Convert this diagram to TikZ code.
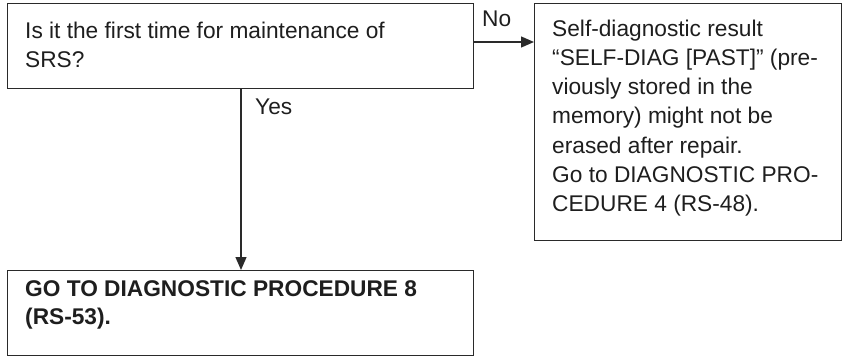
\documentclass[tikz,border=0pt]{standalone}
\usepackage{fontspec}
\setmainfont{Liberation Sans}
\usetikzlibrary{arrows.meta}
\definecolor{lc}{HTML}{2A2A2A}
\definecolor{tc}{HTML}{1E1E1E}
\begin{document}
\begin{tikzpicture}[x=1pt,y=-1pt,
  box/.style={draw=lc, line width=1.3pt, rectangle, inner sep=0pt, anchor=north west},
  txt/.style={inner sep=0pt, anchor=north west, align=left, text=tc,
    font=\fontsize{22.7}{29.3}\selectfont},
  lbl/.style={inner sep=0pt, anchor=base west, text=tc, font=\fontsize{22.7}{29.3}\selectfont},
  arr/.style={draw=lc, line width=1.3pt, -{Triangle[length=13pt,width=11pt]}}]
\useasboundingbox (0,0) rectangle (846,356);
% boxes
\node[box, minimum width=466pt, minimum height=85pt] (q) at (7,3) {};
\node[box, minimum width=307pt, minimum height=237pt] (d) at (534,3) {};
\node[box, minimum width=466pt, minimum height=85pt] (g) at (7,270) {};
% texts
\node[txt] (qt) at (25,17.5) {\strut Is it the first time for maintenance of\\SRS?};
\node[txt] (dt) at (552,15.3) {\strut Self-diagnostic result\\“SELF-DIAG [PAST]” (pre-\\viously stored in the\\memory) might not be\\erased after repair.\\Go to DIAGNOSTIC PRO-\\CEDURE 4 (RS-48).};
\node[txt, font=\fontsize{22.7}{28.5}\selectfont\bfseries] (gt) at (25,276) {\strut GO TO DIAGNOSTIC PROCEDURE 8\\(RS-53).};
% connectors
\coordinate (yx) at (241,0);
\coordinate (ny) at (0,42);
\draw[arr] (q.south -| yx) -- (g.north -| yx);
\draw[arr] (q.east |- ny) -- (d.west |- ny);
% labels
\node[lbl] (yes) at (255,114) {Yes};
\node[lbl] (no) at (482,26) {No};
\end{tikzpicture}
\end{document}
